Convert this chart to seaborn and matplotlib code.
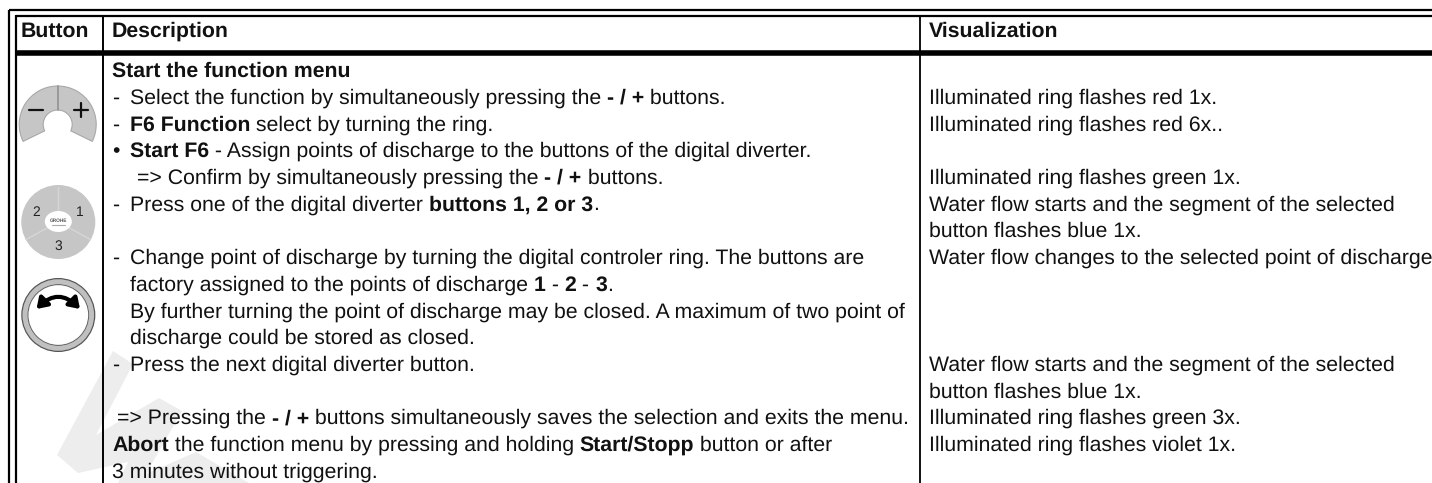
import matplotlib
matplotlib.use("Agg")
import matplotlib.pyplot as plt
import seaborn as sns
from matplotlib.patches import Wedge, Circle, Ellipse, Polygon, FancyArrowPatch

# table content, * toggles bold
headers = ["Button", "Description", "Visualization"]
desc_lines = [
    "*Start the function menu*",
    "Select the function by simultaneously pressing the *- / +* buttons.",
    "*F6 Function* select by turning the ring.",
    "*Start F6* - Assign points of discharge to the buttons of the digital diverter.",
    "=> Confirm by simultaneously pressing the *- / +* buttons.",
    "Press one of the digital diverter *buttons 1, 2 or 3*.",
    "Change point of discharge by turning the digital controler ring. The buttons are",
    "factory assigned to the points of discharge *1* - *2* - *3*.",
    "By further turning the point of discharge may be closed. A maximum of two point of",
    "discharge could be stored as closed.",
    "Press the next digital diverter button.",
    "=> Pressing the *- / +* buttons simultaneously saves the selection and exits the menu.",
    "*Abort* the function menu by pressing and holding *Start/Stopp* button or after",
    "3 minutes without triggering.",
]
desc_bullets = ["", "-", "-", "•", "", "-", "-", "", "", "", "-", "", "", ""]
desc_rows = [0, 1, 2, 3, 4, 5, 7, 8, 9, 10, 11, 13, 14, 15]
desc_x = [112, 130, 130, 130, 137, 130, 130, 130, 130, 130, 130, 117, 112, 112]

vis_lines = [
    "Illuminated ring flashes red 1x.",
    "Illuminated ring flashes red 6x..",
    "Illuminated ring flashes green 1x.",
    "Water flow starts and the segment of the selected",
    "button flashes blue 1x.",
    "Water flow changes to the selected point of discharge",
    "Water flow starts and the segment of the selected",
    "button flashes blue 1x.",
    "Illuminated ring flashes green 3x.",
    "Illuminated ring flashes violet 1x.",
]
vis_rows = [1, 2, 4, 5, 6, 7, 11, 12, 13, 14]

segment_labels = ["2", "1", "3"]

sns.set_theme(style="white")
plt.rcParams["font.family"] = ["Liberation Sans", "DejaVu Sans"]
plt.rcParams["text.hinting"] = "none"

W, H = 1432, 483
FS = 15.35
fig = plt.figure(figsize=(W / 100, H / 100), dpi=100)
ax = fig.add_axes([0, 0, 1, 1])
ax.set_xlim(0, W)
ax.set_ylim(H, 0)
ax.axis("off")
sns.despine(ax=ax, left=True, bottom=True)
rend = fig.canvas.get_renderer()


def run_width(s, bold):
    # the bars keep leading and trailing spaces in the measure
    a = ax.text(0, 0, "|" + s + "|", fontsize=FS, fontweight="bold" if bold else "normal")
    b = ax.text(0, 0, "||", fontsize=FS, fontweight="bold" if bold else "normal")
    w = a.get_window_extent(rend).width - b.get_window_extent(rend).width
    a.remove()
    b.remove()
    return w


def rich_text(x, y, s):
    parts = s.split("*")
    for i, p in enumerate(parts):
        if not p:
            continue
        bold = i % 2 == 1
        ax.text(x, y, p, fontsize=FS, fontweight="bold" if bold else "normal",
                color="#111111", va="baseline", ha="left", zorder=5)
        x += run_width(p, bold)


# watermark
ax.add_patch(Polygon([(113, 351), (133, 364), (96, 435), (159, 398), (182, 411),
                      (146, 474), (196, 452), (249, 483), (118, 483), (128, 462), (78, 473), (57, 455)],
                     closed=True, fc="#ededed", ec="none", zorder=1))

# table rules
lk = dict(color="black", zorder=4, solid_capstyle="butt")
ax.plot([9, W], [10, 10], lw=1.6, **lk)
ax.plot([16, W], [15.6, 15.6], lw=1.6, **lk)
ax.plot([16, W], [52.8, 52.8], lw=4.0, **lk)
ax.plot([9, 9], [9.5, H], lw=1.6, **lk)
ax.plot([16, 16], [15, H], lw=1.6, **lk)
ax.plot([102.7, 102.7], [15, H], lw=1.4, **lk)
ax.plot([920.3, 920.3], [15, H], lw=1.3, **lk)

# header
for label, x in zip(headers, [21, 112, 929]):
    rich_text(x, 37, "*" + label + "*")

# text rows
ROW0, ROWH = 77, 26.7
for line, mark, row, x in zip(desc_lines, desc_bullets, desc_rows, desc_x):
    y = ROW0 + row * ROWH
    if mark:
        rich_text(112, y, mark)
    rich_text(x, y, line)
for line, row in zip(vis_lines, vis_rows):
    rich_text(929, ROW0 + row * ROWH, line)

# +/- ring segment
ax.add_patch(Wedge((57.7, 124.5), 38.5, 154, 386, width=24, fc="#c6c6c6", ec="#a8a8a8", lw=0.8, zorder=2))
ax.plot([57.7, 57.7], [86, 110], color="#999999", lw=1.4, zorder=3)
ax.plot([28.5, 42.5], [110, 110], color="#111111", lw=1.6, zorder=3)
ax.plot([73.7, 87.7], [110, 110], color="#111111", lw=1.6, zorder=3)
ax.plot([80.7, 80.7], [103, 117], color="#111111", lw=1.6, zorder=3)

# digital diverter
ax.add_patch(Circle((58.3, 222), 37, fc="#c6c6c6", ec="none", zorder=2))
for x1, y1 in [(58.3, 187), (26, 239.5), (90.5, 239.5)]:
    ax.plot([58.3, x1], [222, y1], color="#d6d6d6", lw=1.0, zorder=3)
ax.add_patch(Ellipse((58.3, 221.5), 27, 21, fc="white", ec="none", zorder=3))
for label, x, y in zip(segment_labels, [35.7, 80, 58], [212, 212, 246]):
    ax.text(x, y, label, fontsize=10, color="#222222", ha="center", va="center", zorder=4)
ax.text(58.3, 221, "GROHE", fontsize=3.4, fontweight="bold", color="#555555",
        ha="center", va="center", zorder=4)
ax.plot([52, 64.5], [224.5, 224.5], color="#aaaaaa", lw=0.8, zorder=4)

# turning ring
ax.add_patch(Circle((58.3, 315), 33.5, fc="none", ec="#c0c0c0", lw=3.6, zorder=2))
ax.add_patch(Circle((58.3, 315), 36.4, fc="none", ec="#555555", lw=0.9, zorder=3))
ax.add_patch(Circle((58.3, 315), 30.4, fc="none", ec="#666666", lw=0.8, zorder=3))
ax.add_patch(FancyArrowPatch((36.5, 309), (80, 309), connectionstyle="arc3,rad=-0.5",
                             arrowstyle="<|-|>,head_length=6,head_width=4", lw=3,
                             color="black", shrinkA=0, shrinkB=0, zorder=4))

fig.savefig("out.png", dpi=100)
